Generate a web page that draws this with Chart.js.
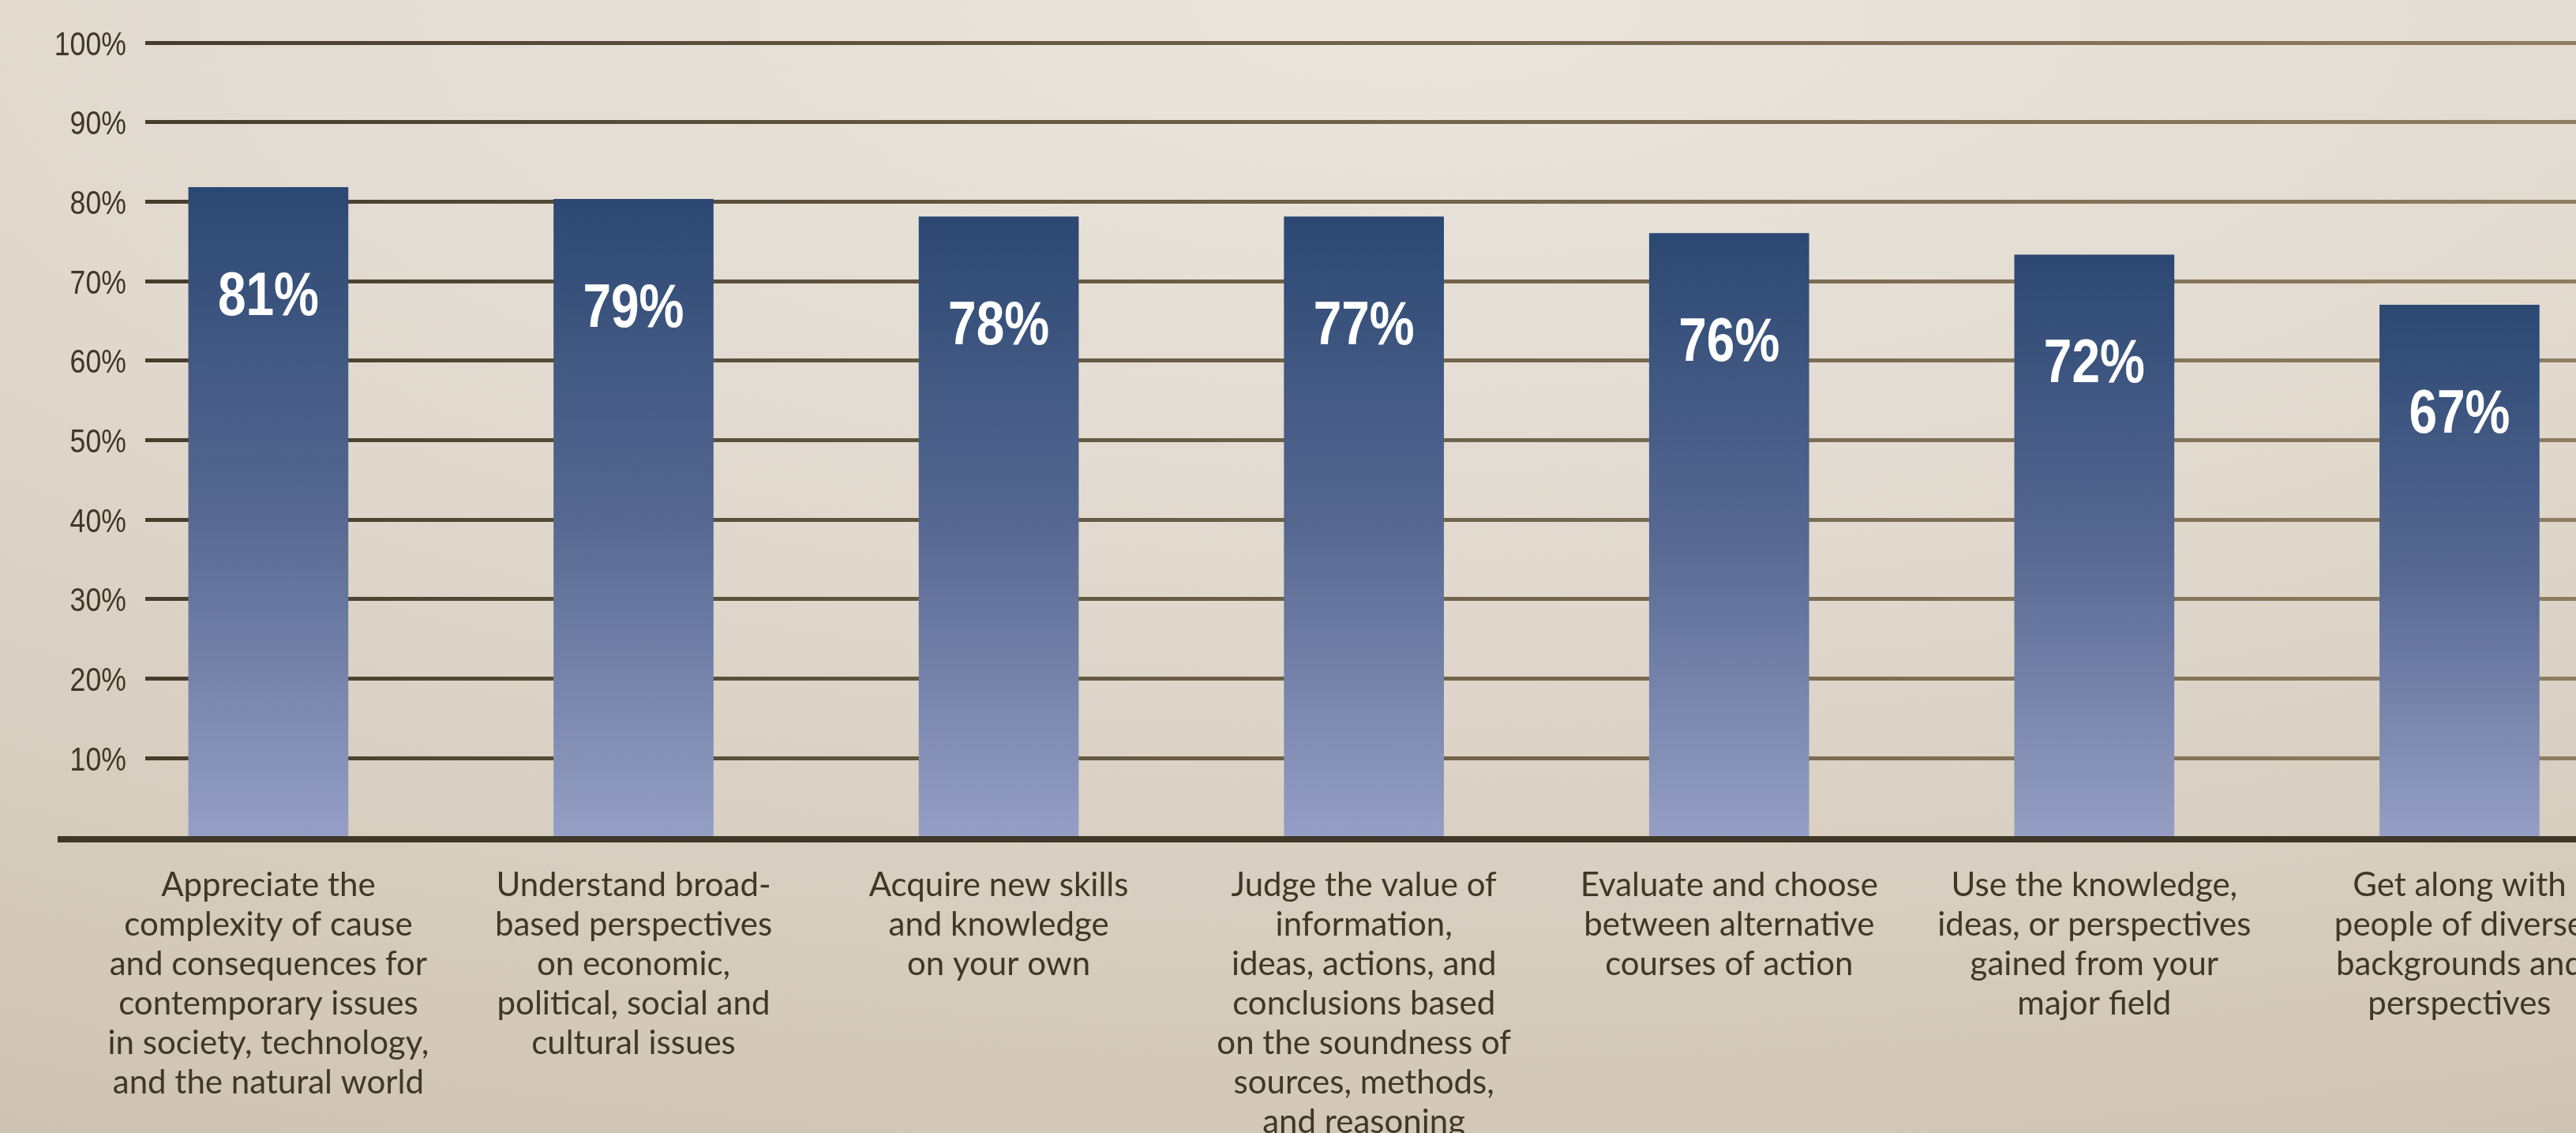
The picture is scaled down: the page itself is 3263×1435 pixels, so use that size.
<!DOCTYPE html>
<html>
<head>
<meta charset="utf-8">
<script src="https://cdn.jsdelivr.net/npm/chart.js@4.4.1/dist/chart.umd.min.js"></script>
<style>
  html, body { margin: 0; padding: 0; overflow: hidden; }
  body {
    width: 3263px;
    height: 1435px;
    background: radial-gradient(ellipse 130% 115% at 55% 0%, #ebe5de 0%, #e1d9ce 45%, #cdc1b1 100%);
  }
  canvas { display: block; }
</style>
</head>
<body>
<canvas id="skillsChart" width="3263" height="1435"></canvas>
<script>
const categories = [
  ['Appreciate the', 'complexity of cause', 'and consequences for', 'contemporary issues', 'in society, technology,', 'and the natural world'],
  ['Understand broad-', 'based perspectives', 'on economic,', 'political, social and', 'cultural issues'],
  ['Acquire new skills', 'and knowledge', 'on your own'],
  ['Judge the value of', 'information,', 'ideas, actions, and', 'conclusions based', 'on the soundness of', 'sources, methods,', 'and reasoning'],
  ['Evaluate and choose', 'between alternative', 'courses of action'],
  ['Use the knowledge,', 'ideas, or perspectives', 'gained from your', 'major field'],
  ['Get along with', 'people of diverse', 'backgrounds and', 'perspectives']
];
// bar heights as drawn, and the percentages printed on them
const barHeights = [81.8, 80.3, 78.1, 78.1, 76.0, 73.3, 67.0];
const valueLabels = ['81%', '79%', '78%', '77%', '76%', '72%', '67%'];
const yTicks = [10, 20, 30, 40, 50, 60, 70, 80, 90, 100];

const sansFont = "'Liberation Sans', Arial, sans-serif";
const labelFont = "Lato, 'Noto Sans', sans-serif";
const inkColor = '#3f3828';

const barGradient = (context) => {
  const chart = context.chart;
  const { chartArea, scales } = chart;
  if (!chartArea) return '#2c4a75';
  const top = scales.y.getPixelForValue(barHeights[context.dataIndex]);
  const bottom = scales.y.getPixelForValue(0);
  const g = chart.ctx.createLinearGradient(0, top, 0, bottom);
  g.addColorStop(0, '#2b4873');
  g.addColorStop(0.5, '#566891');
  g.addColorStop(1, '#969fc5');
  return g;
};

const gridGradient = (context) => {
  const chart = context.chart;
  const { chartArea } = chart;
  if (!chartArea) return '#4a4130';
  const g = chart.ctx.createLinearGradient(chartArea.left, 0, chartArea.right, 0);
  g.addColorStop(0, '#463d2b');
  g.addColorStop(0.45, '#6c5f46');
  g.addColorStop(1, '#8e7d60');
  return g;
};

const baselinePlugin = {
  id: 'baseline',
  afterDatasetsDraw(chart) {
    const { ctx, chartArea, scales } = chart;
    const y = scales.y.getPixelForValue(0) + 2;
    ctx.save();
    ctx.strokeStyle = '#3f3829';
    ctx.lineWidth = 8;
    ctx.beginPath();
    ctx.moveTo(chartArea.left - 111, y);
    ctx.lineTo(chart.width, y);
    ctx.stroke();
    ctx.restore();
  }
};

// condensed text: squeeze the regular face horizontally
const drawNarrow = (ctx, text, x, y, squeeze) => {
  ctx.save();
  ctx.translate(x, y);
  ctx.scale(squeeze, 1);
  ctx.fillText(text, 0, 0);
  ctx.restore();
};

const valueLabelPlugin = {
  id: 'valueLabels',
  afterDatasetsDraw(chart) {
    const { ctx } = chart;
    const meta = chart.getDatasetMeta(0);
    ctx.save();
    ctx.fillStyle = '#ffffff';
    ctx.font = `bold 78px ${sansFont}`;
    ctx.textAlign = 'center';
    ctx.textBaseline = 'middle';
    meta.data.forEach((bar, i) => {
      drawNarrow(ctx, valueLabels[i], bar.x, bar.y + 140, 0.82);
    });
    ctx.restore();
  }
};

const yLabelPlugin = {
  id: 'yLabels',
  afterDraw(chart) {
    const { ctx, chartArea } = chart;
    const scale = chart.scales.y;
    ctx.save();
    ctx.fillStyle = inkColor;
    ctx.font = `42px ${sansFont}`;
    ctx.textAlign = 'right';
    ctx.textBaseline = 'middle';
    scale.ticks.forEach(tick => {
      drawNarrow(ctx, tick.value + '%', chartArea.left - 24, scale.getPixelForValue(tick.value) + 4, 0.85);
    });
    ctx.restore();
  }
};

const ctx = document.getElementById('skillsChart').getContext('2d');
new Chart(ctx, {
  type: 'bar',
  data: {
    datasets: [{
      data: barHeights.map((v, i) => ({ x: i, y: v })),
      backgroundColor: barGradient,
      borderWidth: 0,
      barThickness: 202
    }]
  },
  options: {
    responsive: false,
    animation: false,
    layout: { padding: { top: 54, left: 0, right: 0, bottom: 0 } },
    plugins: {
      legend: { display: false },
      tooltip: { enabled: false }
    },
    scales: {
      x: {
        type: 'linear',
        offset: false,
        min: -0.337,
        max: 6.319,
        grid: { display: false, offset: false },
        border: { display: false },
        afterBuildTicks: (axis) => { axis.ticks = categories.map((_, i) => ({ value: i })); },
        afterFit: (axis) => { axis.height = 374; axis.paddingLeft = 0; axis.paddingRight = 0; },
        ticks: {
          autoSkip: false,
          maxRotation: 0,
          minRotation: 0,
          padding: 27,
          color: inkColor,
          font: { family: labelFont, size: 42, lineHeight: '50px' },
          callback: (value) => categories[value]
        }
      },
      y: {
        min: 0,
        max: 100,
        afterBuildTicks: (axis) => { axis.ticks = yTicks.map(v => ({ value: v })); },
        afterFit: (axis) => { axis.width = 184; },
        grid: { color: gridGradient, lineWidth: 5, drawTicks: false },
        border: { display: false },
        ticks: { display: false }
      }
    }
  },
  plugins: [baselinePlugin, valueLabelPlugin, yLabelPlugin]
});
</script>
</body>
</html>
